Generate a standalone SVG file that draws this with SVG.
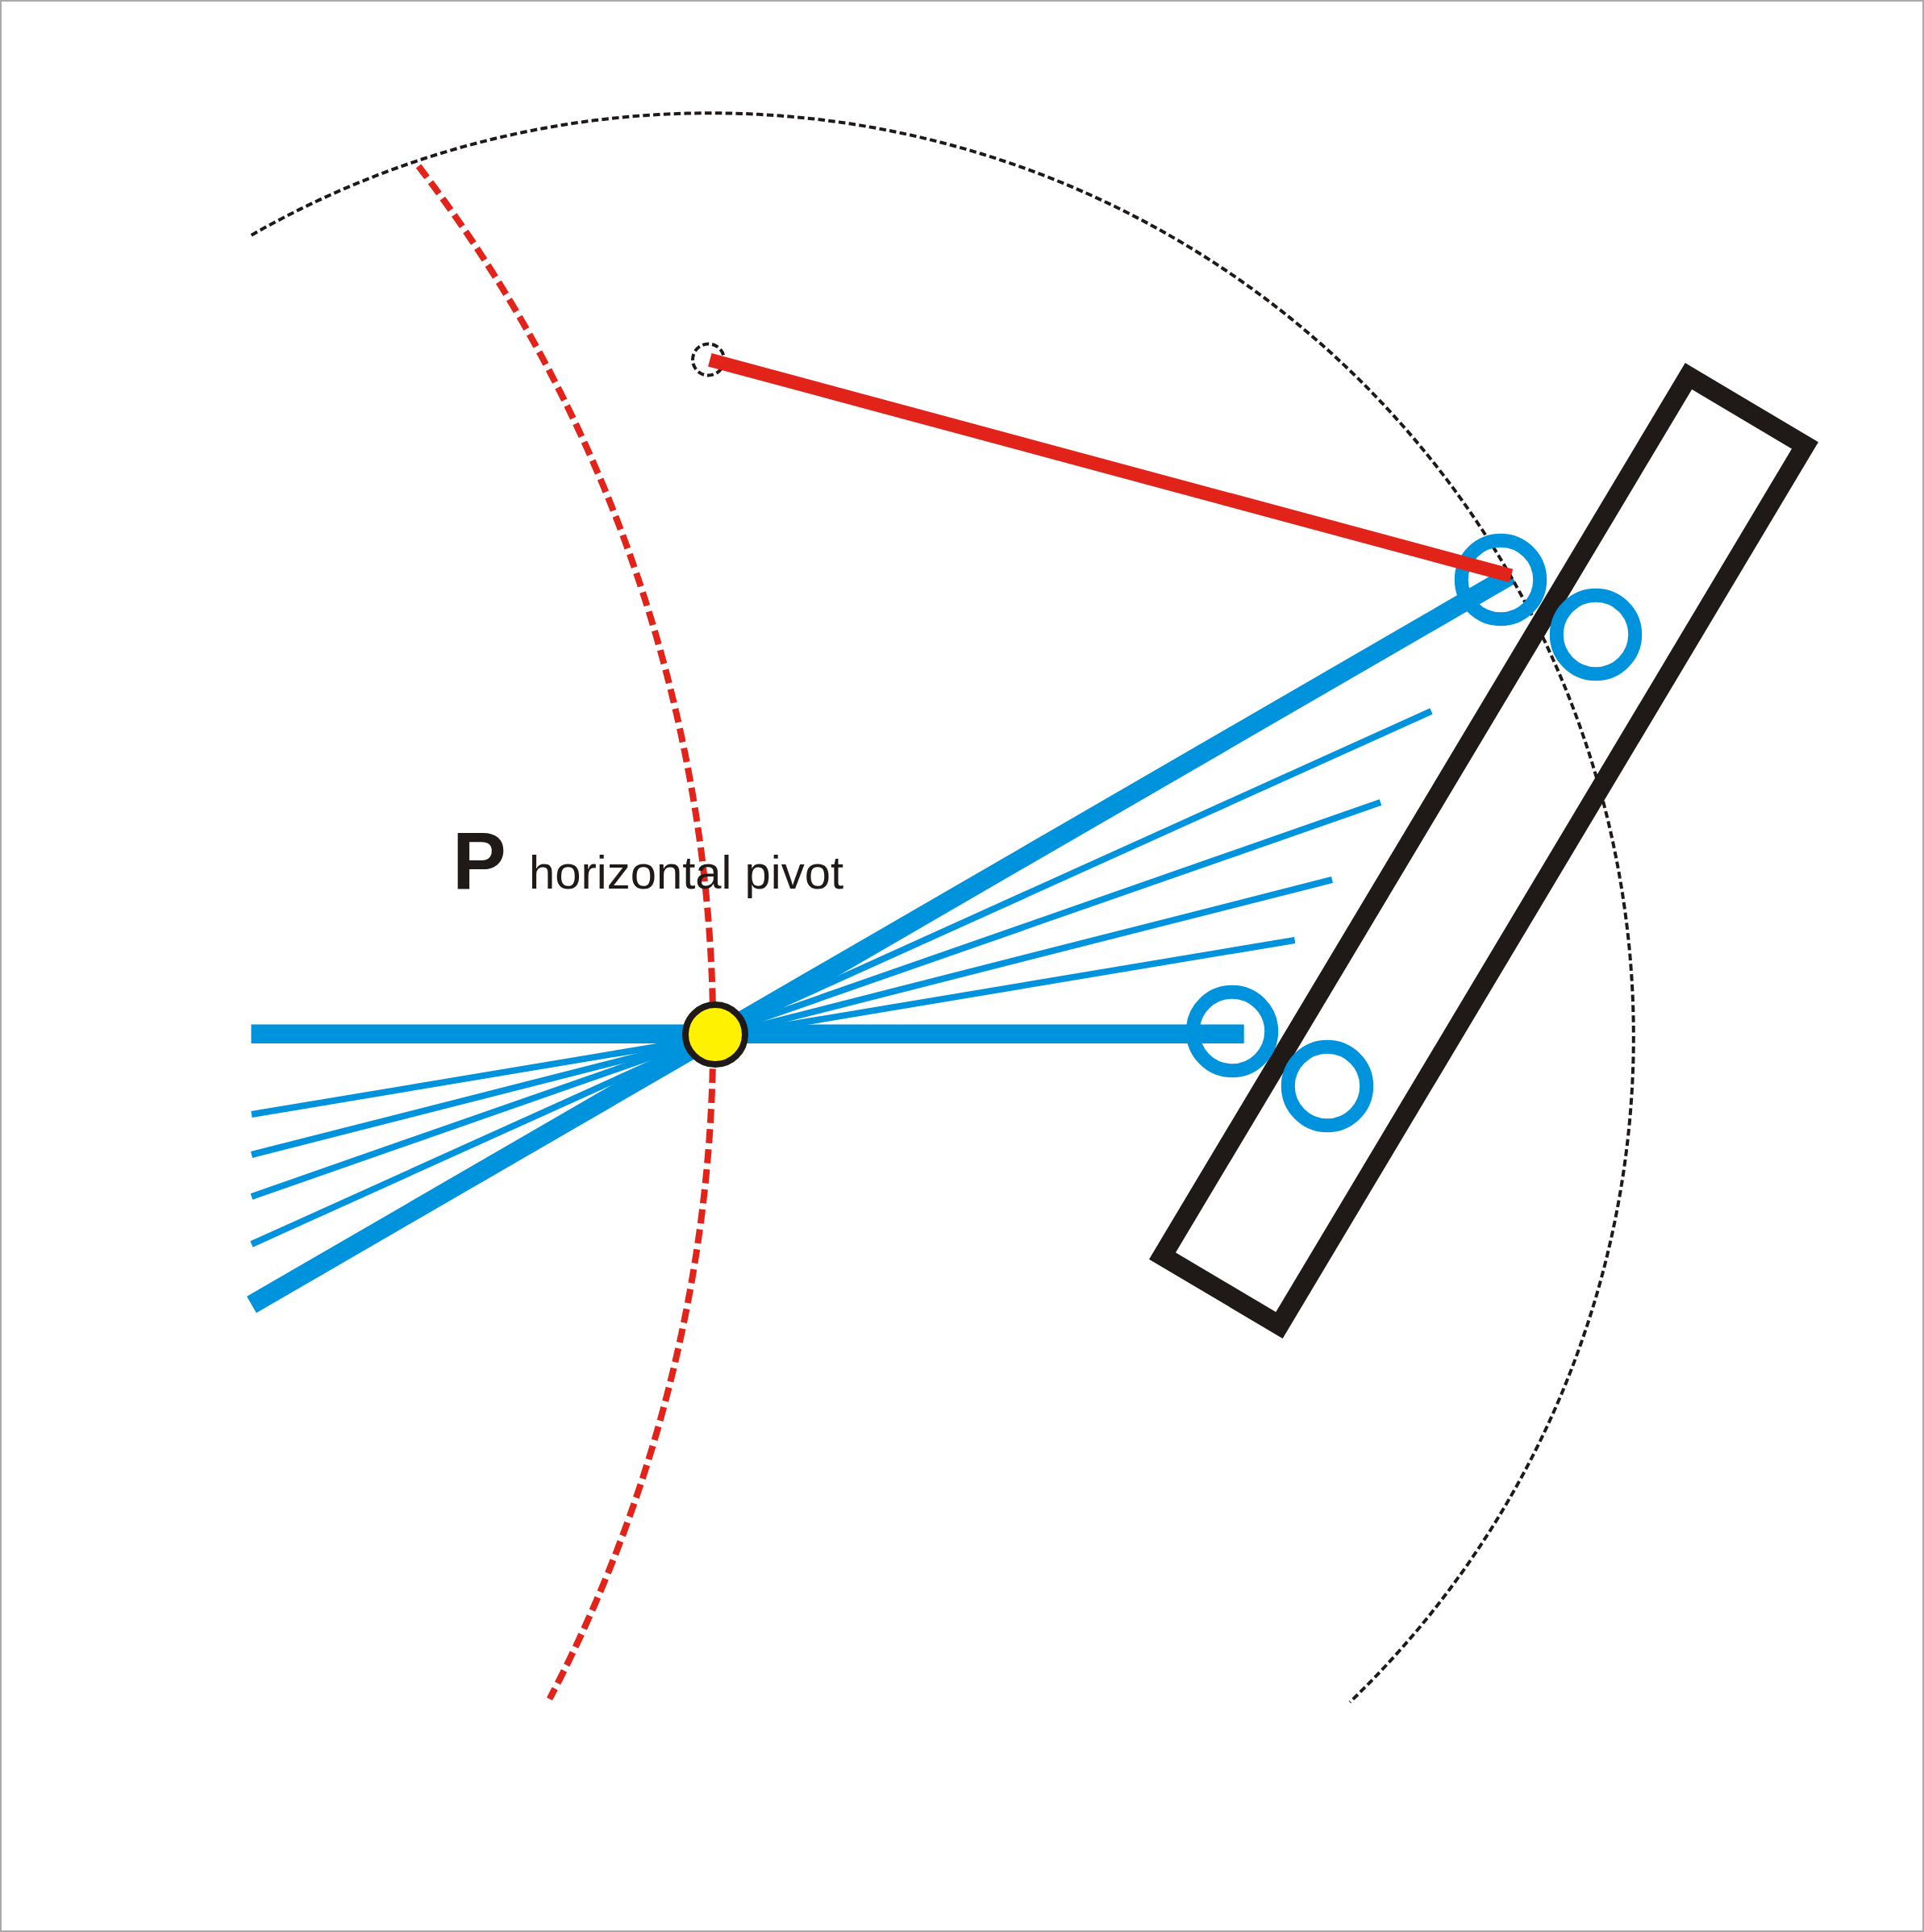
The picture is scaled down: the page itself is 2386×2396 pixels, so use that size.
<svg xmlns="http://www.w3.org/2000/svg" width="2386" height="2396" viewBox="0 0 2386 2396">
<style>
.bt{stroke:#0093dd;stroke-width:23.5;fill:none}
.bn{stroke:#0093dd;stroke-width:8;fill:none}
.ring{stroke:#0093dd;stroke-width:17;fill:none}
.bd{stroke:#1f1a17;stroke-width:4;fill:none;stroke-dasharray:8.5 4.3}
.rd{stroke:#e2231a;stroke-width:8;fill:none;stroke-dasharray:17.5 7.5}
text{font-family:"Liberation Sans",Arial,sans-serif;fill:#1f1a17}
</style>
<rect x="1" y="1" width="2384" height="2394" fill="#fff" stroke="#aaa" stroke-width="2"/>
<g id="arcs">
<path class="rd" d="M519 206A1772.6 1772.6 0 0 1 681.5 2107"/>
</g>
<g id="connectors">
<path class="bt" d="M311.5 1282.3H1542.7"/>
<path class="bt" d="M312 1618L1874 713"/>
<path class="bn" d="M312 1382L1605.7 1166"/>
<path class="bn" d="M312 1432L1652 1091"/>
<path class="bn" d="M312 1484L1712 995"/>
<path class="bn" d="M312 1543L1775 882"/>
</g>
<g id="swing-arc">
<path class="bd" d="M311.7 291.7A1145 1145 0 0 1 1674 2111"/>
</g>
<g id="frame">
<path d="M2094 466.5L2238.5 552.5L1586.5 1643.5L1441.5 1557.5Z" fill="none" stroke="#1f1a17" stroke-width="24" stroke-miterlimit="10"/>
</g>
<g id="rings">
<circle class="ring" cx="1861" cy="719" r="48.7"/>
<circle class="ring" cx="1979" cy="787" r="48.7"/>
<circle class="ring" cx="1528" cy="1279" r="48.7"/>
<circle class="ring" cx="1646" cy="1347" r="48.7"/>
</g>
<g id="red-arm">
<circle cx="878.5" cy="446" r="19.5" fill="none" stroke="#1f1a17" stroke-width="4" stroke-dasharray="8 4"/>
<path d="M880.3 446.2L1874 714" stroke="#e2231a" stroke-width="17" fill="none"/>
</g>
<g id="pivot">
<circle cx="887" cy="1283" r="37" fill="#fff200" stroke="#1f1a17" stroke-width="8"/>
</g>
<g id="label">
<text x="561" y="1102" font-size="100" font-weight="bold">P</text>
<text x="656" y="1102" font-size="58">horizontal pivot</text>
</g>
</svg>
